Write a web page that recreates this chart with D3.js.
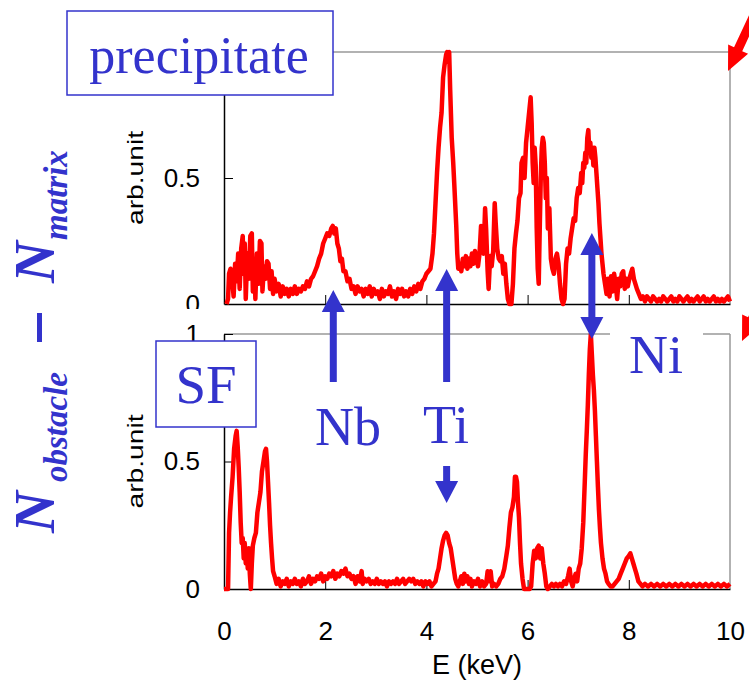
<!DOCTYPE html>
<html>
<head>
<meta charset="utf-8">
<script src="https://cdn.jsdelivr.net/npm/d3@7"></script>
<style>
  body { margin: 0; background: #fff; }
  svg { display: block; }
</style>
</head>
<body>
<div id="chart"></div>
<script>
const width = 749
const height = 693
const blue = '#3333cc'
const red = '#ff0000'

// spectrum over the precipitate: [E (keV), arb.unit]
const precipitate = [
  [0.05,0],[0.08,0.02],[0.10,0.12],[0.13,0.14],[0.16,0.10],[0.19,0.03],[0.22,0.16],[0.25,0.09],[0.28,0.20],[0.31,0.06],
  [0.34,0.22],[0.37,0.27],[0.39,0.12],[0.41,0.24],[0.43,0.02],[0.46,0.20],[0.49,0.10],[0.52,0.27],[0.55,0.28],[0.57,0.05],
  [0.60,0.18],[0.62,0.02],[0.65,0.20],[0.68,0.08],[0.71,0.25],[0.74,0.24],[0.76,0.05],[0.79,0.15],[0.82,0.10],[0.85,0.17],
  [0.88,0.16],[0.91,0.06],[0.94,0.13],[0.97,0.04],[1.00,0.10],[1.04,0.05],[1.08,0.08],[1.12,0.03],[1.16,0.07],[1.20,0.04],
  [1.24,0.06],[1.28,0.03],[1.32,0.06],[1.36,0.04],[1.40,0.07],[1.44,0.04],[1.48,0.06],[1.52,0.05],[1.56,0.07],[1.60,0.06],
  [1.64,0.09],[1.68,0.07],[1.72,0.10],[1.76,0.11],[1.80,0.13],[1.84,0.15],[1.88,0.18],[1.92,0.20],[1.96,0.24],[2.00,0.26],
  [2.04,0.28],[2.08,0.27],[2.12,0.30],[2.15,0.31],[2.18,0.28],[2.21,0.30],[2.24,0.24],[2.27,0.22],[2.30,0.17],[2.33,0.18],
  [2.36,0.13],[2.40,0.13],[2.44,0.09],[2.48,0.10],[2.52,0.06],[2.56,0.07],[2.60,0.04],[2.64,0.07],[2.68,0.05],[2.72,0.06],
  [2.76,0.03],[2.80,0.06],[2.84,0.04],[2.88,0.07],[2.92,0.03],[2.96,0.06],[3.00,0.04],[3.04,0.05],[3.08,0.02],[3.12,0.06],
  [3.16,0.03],[3.20,0.05],[3.24,0.04],[3.28,0.07],[3.32,0.03],[3.36,0.05],[3.40,0.02],[3.44,0.06],[3.48,0.04],[3.52,0.06],
  [3.56,0.03],[3.60,0.05],[3.64,0.03],[3.68,0.06],[3.72,0.04],[3.76,0.07],[3.80,0.05],[3.84,0.08],[3.88,0.06],[3.92,0.09],
  [3.96,0.10],[4.00,0.12],[4.04,0.13],[4.08,0.14],[4.12,0.20],[4.15,0.28],[4.18,0.40],[4.21,0.52],[4.24,0.62],[4.27,0.70],
  [4.30,0.76],[4.33,0.90],[4.36,0.95],[4.39,0.99],[4.41,1.00],[4.43,0.96],[4.45,1.00],[4.47,0.85],[4.50,0.66],[4.53,0.56],
  [4.55,0.48],[4.59,0.31],[4.61,0.20],[4.63,0.14],[4.66,0.16],[4.69,0.13],[4.72,0.18],[4.75,0.15],[4.78,0.19],[4.81,0.14],
  [4.84,0.18],[4.87,0.15],[4.90,0.20],[4.93,0.16],[4.96,0.21],[4.99,0.18],[5.02,0.15],[5.05,0.20],[5.08,0.31],[5.10,0.22],
  [5.13,0.20],[5.16,0.38],[5.18,0.30],[5.21,0.13],[5.23,0.06],[5.26,0.19],[5.29,0.15],[5.32,0.21],[5.35,0.40],[5.37,0.32],
  [5.40,0.22],[5.43,0.18],[5.46,0.17],[5.49,0.19],[5.52,0.12],[5.55,0.16],[5.58,0.08],[5.61,0.02],[5.64,0],[5.68,0],
  [5.71,0.08],[5.74,0.22],[5.77,0.28],[5.80,0.33],[5.83,0.42],[5.86,0.44],[5.88,0.56],[5.91,0.58],[5.94,0.50],[5.97,0.64],
  [6.00,0.70],[6.03,0.76],[6.06,0.82],[6.08,0.72],[6.10,0.56],[6.12,0.48],[6.14,0.62],[6.16,0.55],[6.18,0.30],[6.20,0.14],
  [6.22,0.08],[6.24,0.30],[6.26,0.50],[6.28,0.62],[6.30,0.66],[6.32,0.64],[6.34,0.56],[6.36,0.42],[6.38,0.50],[6.40,0.30],
  [6.43,0.38],[6.46,0.18],[6.49,0.14],[6.52,0.12],[6.55,0.18],[6.58,0.20],[6.61,0.16],[6.64,0.08],[6.67,0.02],[6.70,0],
  [6.73,0.02],[6.76,0.16],[6.79,0.22],[6.82,0.20],[6.85,0.26],[6.88,0.30],[6.91,0.34],[6.94,0.33],[6.97,0.42],[7.00,0.46],
  [7.03,0.44],[7.06,0.52],[7.08,0.48],[7.10,0.56],[7.12,0.54],[7.14,0.60],[7.16,0.56],[7.18,0.66],[7.20,0.69],[7.22,0.60],
  [7.24,0.64],[7.26,0.58],[7.28,0.62],[7.30,0.55],[7.32,0.62],[7.34,0.58],[7.36,0.52],[7.38,0.46],[7.40,0.40],[7.42,0.32],
  [7.44,0.26],[7.46,0.20],[7.48,0.16],[7.50,0.12],[7.53,0.08],[7.56,0.04],[7.59,0.10],[7.62,0.03],[7.65,0.11],[7.68,0.05],
  [7.71,0.12],[7.74,0.08],[7.77,0.02],[7.80,0.10],[7.83,0.07],[7.86,0.12],[7.89,0.13],[7.92,0.06],[7.95,0.10],[7.98,0.07],
  [8.01,0.10],[8.04,0.12],[8.07,0.14],[8.10,0.10],[8.13,0.08],[8.16,0.06],[8.20,0.04],[8.24,0.02],[8.28,0.03],[8.32,0.01],
  [8.36,0.03],[8.40,0.02],[8.44,0.01],[8.48,0.03],[8.52,0.02],[8.56,0.01],[8.60,0.02],[8.64,0.01],[8.68,0.03],[8.72,0.02],
  [8.76,0.01],[8.80,0.02],[8.84,0.03],[8.88,0.01],[8.92,0.02],[8.96,0.01],[9.00,0.03],[9.04,0.02],[9.08,0.01],[9.12,0.02],
  [9.16,0.03],[9.20,0.01],[9.24,0.02],[9.28,0.01],[9.32,0.02],[9.36,0.03],[9.40,0.01],[9.44,0.02],[9.48,0.03],[9.52,0.01],
  [9.56,0.02],[9.60,0.01],[9.64,0.02],[9.68,0.03],[9.72,0.01],[9.76,0.02],[9.80,0.01],[9.84,0.02],[9.88,0.01],[9.92,0.02],
  [9.96,0.03],[10.0,0.01]
]

// spectrum over the stacking fault: [E (keV), arb.unit]
const stackingFault = [
  [0.00,0],[0.08,0],[0.10,0.22],[0.12,0.30],[0.14,0.36],[0.17,0.44],[0.20,0.55],[0.23,0.60],[0.25,0.62],[0.27,0.56],
  [0.29,0.48],[0.31,0.38],[0.33,0.26],[0.35,0.18],[0.37,0.20],[0.39,0.12],[0.41,0.18],[0.43,0.10],[0.45,0.14],[0.47,0.08],
  [0.49,0.16],[0.51,0.06],[0.53,0],[0.55,0.10],[0.57,0.17],[0.60,0.20],[0.63,0.22],[0.66,0.30],[0.69,0.34],[0.72,0.38],
  [0.75,0.46],[0.78,0.50],[0.81,0.54],[0.83,0.55],[0.85,0.50],[0.87,0.42],[0.89,0.34],[0.91,0.25],[0.93,0.18],[0.95,0.12],
  [0.97,0.07],[1.00,0.05],[1.04,0.02],[1.08,0.04],[1.12,0.01],[1.16,0.03],[1.20,0.02],[1.24,0.04],[1.28,0.01],[1.32,0.03],
  [1.36,0.02],[1.40,0.04],[1.44,0.02],[1.48,0.03],[1.52,0.01],[1.56,0.04],[1.60,0.02],[1.64,0.03],[1.68,0.05],[1.72,0.02],
  [1.76,0.04],[1.80,0.03],[1.84,0.05],[1.88,0.04],[1.92,0.06],[1.96,0.03],[2.00,0.05],[2.04,0.04],[2.08,0.06],[2.12,0.05],
  [2.16,0.07],[2.20,0.04],[2.24,0.06],[2.28,0.05],[2.32,0.07],[2.36,0.06],[2.40,0.08],[2.44,0.05],[2.48,0.06],[2.52,0.04],
  [2.56,0.05],[2.60,0.02],[2.64,0.05],[2.68,0.03],[2.72,0.07],[2.74,0.02],[2.78,0.04],[2.82,0.03],[2.86,0.04],[2.90,0.02],
  [2.94,0.03],[2.98,0.02],[3.02,0.04],[3.06,0.02],[3.10,0.03],[3.14,0.02],[3.18,0.03],[3.22,0.01],[3.26,0.03],[3.30,0.02],
  [3.34,0.03],[3.38,0.02],[3.42,0.04],[3.46,0.02],[3.50,0.03],[3.54,0.04],[3.58,0.02],[3.62,0.03],[3.66,0.04],[3.70,0.03],
  [3.74,0.04],[3.78,0.02],[3.82,0.03],[3.86,0.02],[3.90,0.03],[3.94,0.01],[3.98,0.03],[4.02,0.02],[4.06,0.03],[4.10,0.01],
  [4.14,0.02],[4.18,0.03],[4.21,0.06],[4.24,0.08],[4.27,0.12],[4.30,0.16],[4.33,0.19],[4.36,0.21],[4.39,0.22],[4.42,0.21],
  [4.45,0.18],[4.48,0.16],[4.51,0.12],[4.54,0.08],[4.57,0.04],[4.60,0.02],[4.63,0.01],[4.66,0.03],[4.69,0.05],[4.72,0.02],
  [4.75,0.06],[4.78,0.03],[4.81,0.05],[4.84,0.02],[4.87,0.04],[4.90,0.01],[4.94,0.03],[4.98,0.02],[5.02,0.04],[5.06,0.01],
  [5.10,0.03],[5.14,0.01],[5.18,0.02],[5.21,0.07],[5.24,0.03],[5.27,0.07],[5.30,0.01],[5.34,0.02],[5.38,0.01],[5.42,0.02],
  [5.46,0.04],[5.50,0.05],[5.54,0.08],[5.58,0.13],[5.61,0.17],[5.64,0.24],[5.67,0.30],[5.70,0.32],[5.73,0.36],[5.75,0.44],
  [5.77,0.44],[5.79,0.42],[5.81,0.34],[5.83,0.28],[5.85,0.18],[5.87,0.10],[5.90,0.04],[5.93,0],[5.96,0],[6.00,0],
  [6.04,0],[6.07,0.01],[6.10,0.10],[6.13,0.15],[6.16,0.12],[6.19,0.16],[6.22,0.17],[6.25,0.12],[6.28,0.16],[6.31,0.10],
  [6.34,0.06],[6.37,0.01],[6.40,0],[6.44,0.01],[6.48,0.02],[6.52,0.01],[6.56,0.02],[6.60,0.01],[6.64,0.02],[6.68,0.01],
  [6.72,0.03],[6.76,0.02],[6.80,0.05],[6.83,0.08],[6.86,0.03],[6.89,0.01],[6.92,0.04],[6.95,0.06],[6.98,0.03],[7.01,0.08],
  [7.04,0.10],[7.07,0.16],[7.10,0.26],[7.13,0.42],[7.15,0.53],[7.17,0.62],[7.19,0.72],[7.21,0.84],[7.23,0.94],[7.25,1.00],
  [7.27,0.92],[7.29,0.84],[7.31,0.78],[7.33,0.70],[7.35,0.60],[7.37,0.50],[7.39,0.40],[7.41,0.31],[7.43,0.24],[7.45,0.18],
  [7.48,0.12],[7.51,0.08],[7.54,0.06],[7.57,0.03],[7.60,0.02],[7.64,0.01],[7.68,0.01],[7.72,0.02],[7.76,0.03],[7.80,0.04],
  [7.84,0.06],[7.88,0.08],[7.92,0.10],[7.96,0.12],[8.00,0.13],[8.03,0.14],[8.06,0.12],[8.09,0.10],[8.12,0.08],[8.15,0.06],
  [8.19,0.03],[8.23,0.02],[8.27,0.01],[8.32,0.02],[8.38,0.01],[8.44,0.02],[8.50,0.01],[8.56,0.02],[8.62,0.01],[8.68,0.02],
  [8.74,0.01],[8.80,0.02],[8.86,0.01],[8.92,0.02],[8.98,0.01],[9.04,0.02],[9.10,0.01],[9.16,0.02],[9.22,0.01],[9.28,0.02],
  [9.34,0.01],[9.40,0.02],[9.46,0.01],[9.52,0.02],[9.58,0.01],[9.64,0.02],[9.70,0.01],[9.76,0.02],[9.82,0.01],[9.88,0.02],
  [9.94,0.01],[10.0,0.02]
]

const xTicks = [0, 2, 4, 6, 8, 10]
const yTicks = [0, 0.5, 1]

// peak markers: element, energy of arrow
const markers = [
  {label: 'Nb', e: 2.16},
  {label: 'Ti', e: 4.4},
  {label: 'Ni', e: 7.27}
]

const svg = d3.select('#chart').append('svg')
  .attr('width', width)
  .attr('height', height)

const x = d3.scaleLinear().domain([0, 10]).range([224, 730])
const yTop = d3.scaleLinear().domain([0, 1]).range([304, 52])
const yBot = d3.scaleLinear().domain([0, 1]).range([589, 334])

const tickFont = '"Liberation Sans", Arial, sans-serif'

function frame(g, y, xLabels, yLabelValues) {
  // grey top and right borders
  g.append('line').attr('x1', x(0)).attr('x2', x(10)).attr('y1', y(1)).attr('y2', y(1))
    .attr('stroke', '#999').attr('stroke-width', 1.5)
  g.append('line').attr('x1', x(10)).attr('x2', x(10)).attr('y1', y(1)).attr('y2', y(0))
    .attr('stroke', '#999').attr('stroke-width', 1.5)

  const xa = g.append('g').attr('transform', `translate(0,${y(0)})`)
    .call(d3.axisBottom(x).tickValues(xTicks).tickSizeInner(-9).tickSizeOuter(0).tickPadding(33)
      .tickFormat(xLabels ? d3.format('d') : ''))
  xa.select('.domain').attr('stroke', '#000').attr('stroke-width', 1.5)
  xa.selectAll('.tick line').attr('stroke', '#000')
  xa.selectAll('.tick').filter(d => d === 0 || d === 10).select('line').remove()
  xa.selectAll('text').attr('font-size', 26).attr('font-family', tickFont).attr('fill', '#000')

  const ya = g.append('g').attr('transform', `translate(${x(0)},0)`)
    .call(d3.axisLeft(y).tickValues(yLabelValues).tickSizeInner(-9).tickSizeOuter(0).tickPadding(24)
      .tickFormat(d3.format('')))
  ya.select('.domain').attr('stroke', '#000').attr('stroke-width', 1.5)
  ya.selectAll('.tick line').attr('stroke', '#000')
  ya.selectAll('.tick').filter(d => d === 0).select('line').remove()
  ya.selectAll('text').attr('font-size', 26).attr('font-family', tickFont).attr('fill', '#000')

  g.append('text')
    .attr('transform', `translate(143,${(y(0) + y(1)) / 2}) rotate(-90)`)
    .attr('text-anchor', 'middle')
    .attr('font-family', tickFont)
    .attr('font-size', 22)
    .attr('textLength', 94)
    .attr('lengthAdjust', 'spacingAndGlyphs')
    .text('arb.unit')
}

function spectrum(g, data, y) {
  g.append('path')
    .datum(data)
    .attr('fill', 'none')
    .attr('stroke', red)
    .attr('stroke-width', 4.5)
    .attr('stroke-linejoin', 'round')
    .attr('d', d3.line().x(d => x(d[0])).y(d => y(d[1])))
}

/* top panel */
const topPanel = svg.append('g')
frame(topPanel, yTop, false, [0, 0.5])
spectrum(topPanel, precipitate, yTop)

/* bottom panel, its white sheet hides the lower part of the top "0" */
const bottomPanel = svg.append('g')
bottomPanel.append('rect').attr('x', 150).attr('y', 309).attr('width', 590).attr('height', 290).attr('fill', '#fff')
frame(bottomPanel, yBot, true, yTicks)
spectrum(bottomPanel, stackingFault, yBot)

svg.append('text')
  .attr('x', (x(0) + x(10)) / 2)
  .attr('y', 674)
  .attr('text-anchor', 'middle')
  .attr('font-family', tickFont)
  .attr('font-size', 27)
  .text('E (keV)')

/* label boxes */
const serif = '"Liberation Serif", "Times New Roman", serif'
function box(bx, by, bw, bh, label, tx, ty, fs) {
  svg.append('rect').attr('x', bx).attr('y', by).attr('width', bw).attr('height', bh)
    .attr('fill', '#fff').attr('stroke', blue).attr('stroke-width', 1.5)
  svg.append('text').attr('x', tx).attr('y', ty).attr('text-anchor', 'middle')
    .attr('font-family', serif).attr('font-size', fs).attr('fill', blue).text(label)
}
box(67, 11, 266, 84, 'precipitate', 199, 73, 52)
box(156, 341, 100, 86, 'SF', 206, 403, 55)

// white patch behind the Ni label
svg.append('rect').attr('x', 610).attr('y', 328).attr('width', 93).attr('height', 52).attr('fill', '#fff')

/* blue arrows */
function arrowPath(cx, yTail, yTip) {
  const dir = yTip < yTail ? -1 : 1
  const hw = 11.5, sw = 3.5, hl = 22
  const base = yTip - dir * hl
  return `M${cx - sw},${yTail} L${cx - sw},${base} L${cx - hw},${base} L${cx},${yTip} ` +
    `L${cx + hw},${base} L${cx + sw},${base} L${cx + sw},${yTail} Z`
}
const nb = markers[0], ti = markers[1], ni = markers[2]
svg.append('path').attr('d', arrowPath(x(nb.e), 382, 290)).attr('fill', blue)
svg.append('path').attr('d', arrowPath(x(ti.e), 382, 269)).attr('fill', blue)
svg.append('path').attr('d', arrowPath(x(ti.e), 466, 503)).attr('fill', blue)
svg.append('path').attr('d', arrowPath(x(ni.e), 290, 233)).attr('fill', blue)
svg.append('path').attr('d', arrowPath(x(ni.e), 290, 339)).attr('fill', blue)

function peakLabel(m, lx, ly) {
  svg.append('text').attr('x', lx).attr('y', ly).attr('text-anchor', 'middle')
    .attr('font-family', serif).attr('font-size', 54).attr('fill', blue).text(m.label)
}
peakLabel(nb, 348, 445)
peakLabel(ti, 446, 443)
peakLabel(ni, 656, 373)

/* red pointer arrows at the right edge */
function redArrow(tx, ty) {
  const ux = 0.422, uy = -0.907, px = 0.907, py = 0.422
  const hl = 24, hw = 11, sw = 4.5, len = 90
  const bx = tx + ux * hl, by = ty + uy * hl
  const ex = tx + ux * len, ey = ty + uy * len
  const pts = [
    [bx - px * sw, by - py * sw], [bx - px * hw, by - py * hw], [tx, ty],
    [bx + px * hw, by + py * hw], [bx + px * sw, by + py * sw],
    [ex + px * sw, ey + py * sw], [ex - px * sw, ey - py * sw]
  ]
  svg.append('path').attr('d', 'M' + pts.map(p => p.join(',')).join('L') + 'Z').attr('fill', red)
}
redArrow(728, 71)
redArrow(742, 341)

/* vertical label N_obstacle - N_matrix */
const lab = svg.append('g').attr('fill', blue).attr('font-family', serif)
  .attr('font-weight', 'bold').attr('font-style', 'italic')
lab.append('text').attr('transform', 'translate(54,533) rotate(-90)').attr('font-size', 58).text('N')
lab.append('text').attr('transform', 'translate(67,482) rotate(-90)').attr('font-size', 33).text('obstacle')
lab.append('text').attr('transform', 'translate(54,283) rotate(-90)').attr('font-size', 58).text('N')
lab.append('text').attr('transform', 'translate(67,240) rotate(-90)').attr('font-size', 33).text('matrix')
lab.append('rect').attr('x', 37).attr('y', 313).attr('width', 5).attr('height', 29)
</script>
</body>
</html>
